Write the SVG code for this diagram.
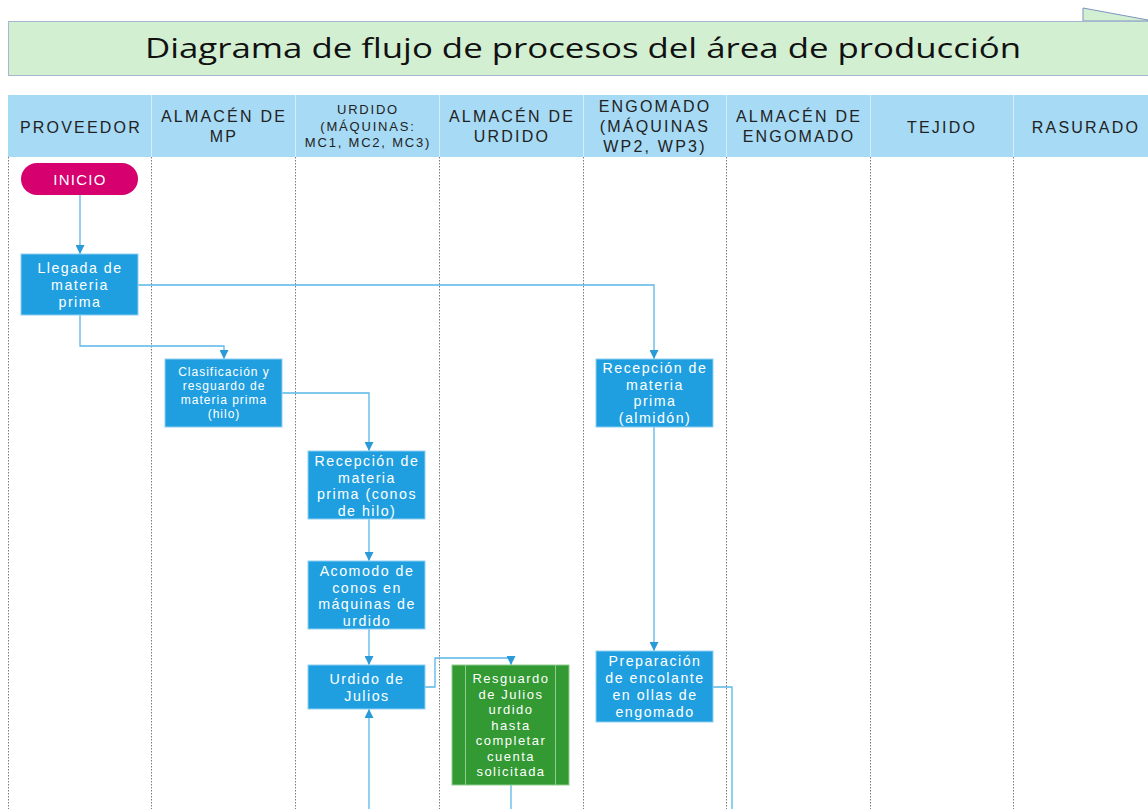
<svg xmlns="http://www.w3.org/2000/svg" width="1148" height="809" viewBox="0 0 1148 809">
<defs>
<style>
.lane{stroke:#7a7a7a;stroke-width:1;stroke-dasharray:1.5 1.5;fill:none}
.hd{font-family:"Liberation Sans",Arial,sans-serif;font-size:16px;letter-spacing:2.2px;fill:#222;text-anchor:middle}
.hds{font-family:"Liberation Sans",Arial,sans-serif;font-size:13px;letter-spacing:1.8px;fill:#222;text-anchor:middle}
.box{fill:#1f9fe0;stroke:#8fd0f2;stroke-width:1}
.gbox{fill:#339933;stroke:#8fcc8f;stroke-width:1}
.t{font-family:"Liberation Sans",Arial,sans-serif;font-size:14.2px;letter-spacing:1.5px;fill:#fff;text-anchor:middle}
.ts{font-family:"Liberation Sans",Arial,sans-serif;font-size:12px;letter-spacing:1px;fill:#fff;text-anchor:middle}
.tg{font-family:"Liberation Sans",Arial,sans-serif;font-size:13px;letter-spacing:1.5px;fill:#fff;text-anchor:middle}
.c{fill:none;stroke:#5ab7e8;stroke-width:1.3}
</style>
<marker id="ar" viewBox="0 0 10 10" refX="10" refY="5" markerWidth="9" markerHeight="9" markerUnits="userSpaceOnUse" orient="auto">
<path d="M0,0 L10,5 L0,10 z" fill="#2a9ad8"/>
</marker>
</defs>
<rect width="1148" height="809" fill="#fff"/>
<g id="title">
<polygon points="1083,8 1083,21 1148,21 1148,20" fill="#d3efd1" stroke="#7d93c0" stroke-width="1"/>
<rect x="8.5" y="21.5" width="1145" height="54" fill="#d3efd1" stroke="#a7b7d0" stroke-width="1"/>
<text x="583" y="58" font-family="'Open Sans','Liberation Sans',sans-serif" font-size="28" fill="#111" text-anchor="middle" textLength="876" lengthAdjust="spacingAndGlyphs">Diagrama de flujo de procesos del área de producción</text>
</g>
<g id="header">
<rect x="8" y="95" width="1140" height="62" fill="#a6daf5"/>
<g stroke="#d3eefa" stroke-width="1">
<line x1="151.5" y1="95" x2="151.5" y2="157"/>
<line x1="295.5" y1="95" x2="295.5" y2="157"/>
<line x1="439.5" y1="95" x2="439.5" y2="157"/>
<line x1="583.5" y1="95" x2="583.5" y2="157"/>
<line x1="726.5" y1="95" x2="726.5" y2="157"/>
<line x1="870.5" y1="95" x2="870.5" y2="157"/>
<line x1="1013.5" y1="95" x2="1013.5" y2="157"/>
</g>
<text class="hd" x="81" y="133">PROVEEDOR</text>
<text class="hd" x="224" y="122">ALMACÉN DE</text>
<text class="hd" x="224" y="142">MP</text>
<text class="hds" x="368" y="114">URDIDO</text>
<text class="hds" x="368" y="131">(MÁQUINAS:</text>
<text class="hds" x="368" y="147">MC1, MC2, MC3)</text>
<text class="hd" x="512" y="122">ALMACÉN DE</text>
<text class="hd" x="512" y="142">URDIDO</text>
<text class="hd" x="655" y="112">ENGOMADO</text>
<text class="hd" x="655" y="132">(MÁQUINAS</text>
<text class="hd" x="655" y="152">WP2, WP3)</text>
<text class="hd" x="799" y="122">ALMACÉN DE</text>
<text class="hd" x="799" y="142">ENGOMADO</text>
<text class="hd" x="942" y="133">TEJIDO</text>
<text class="hd" x="1086" y="133">RASURADO</text>
</g>
<g id="lanes">
<line class="lane" x1="8.5" y1="157" x2="8.5" y2="809"/>
<line class="lane" x1="151.5" y1="157" x2="151.5" y2="809"/>
<line class="lane" x1="295.5" y1="157" x2="295.5" y2="809"/>
<line class="lane" x1="439.5" y1="157" x2="439.5" y2="809"/>
<line class="lane" x1="583.5" y1="157" x2="583.5" y2="809"/>
<line class="lane" x1="726.5" y1="157" x2="726.5" y2="809"/>
<line class="lane" x1="870.5" y1="157" x2="870.5" y2="809"/>
<line class="lane" x1="1013.5" y1="157" x2="1013.5" y2="809"/>
</g>
<g id="connectors">
<path class="c" d="M80,195 V254" marker-end="url(#ar)"/>
<path class="c" d="M138,285 H654 V359" marker-end="url(#ar)"/>
<path class="c" d="M80,315 V346 H224 V359" marker-end="url(#ar)"/>
<path class="c" d="M282,393 H369 V451" marker-end="url(#ar)"/>
<path class="c" d="M369,519 V561" marker-end="url(#ar)"/>
<path class="c" d="M369,629 V665" marker-end="url(#ar)"/>
<path class="c" d="M369,809 V709" marker-end="url(#ar)"/>
<path class="c" d="M425,687 H435 V658 H511 V665" marker-end="url(#ar)"/>
<path class="c" d="M511,785 V809"/>
<path class="c" d="M654,427 V651" marker-end="url(#ar)"/>
<path class="c" d="M713,687 H732 V809"/>
</g>
<g id="inicio">
<rect x="21" y="163" width="117" height="32" rx="16" fill="#d6006f"/>
<text x="80" y="185" font-family="'Liberation Sans',Arial,sans-serif" font-size="15" letter-spacing="1.3" fill="#fff" text-anchor="middle">INICIO</text>
</g>
<g id="llegada">
<rect class="box" x="21" y="254" width="117" height="61"/>
<text class="t" x="80" y="273">Llegada de</text>
<text class="t" x="80" y="290">materia</text>
<text class="t" x="80" y="307">prima</text>
</g>
<g id="clasificacion">
<rect class="box" x="165" y="359" width="117" height="68"/>
<text class="ts" x="224" y="376">Clasificación y</text>
<text class="ts" x="224" y="390">resguardo de</text>
<text class="ts" x="224" y="404">materia prima</text>
<text class="ts" x="224" y="418">(hilo)</text>
</g>
<g id="recepcion-conos">
<rect class="box" x="308" y="451" width="117" height="68"/>
<text class="t" x="367" y="466">Recepción de</text>
<text class="t" x="367" y="482.5">materia</text>
<text class="t" x="367" y="499">prima (conos</text>
<text class="t" x="367" y="515.5">de hilo)</text>
</g>
<g id="acomodo">
<rect class="box" x="308" y="561" width="117" height="68"/>
<text class="t" x="367" y="576">Acomodo de</text>
<text class="t" x="367" y="592.5">conos en</text>
<text class="t" x="367" y="609">máquinas de</text>
<text class="t" x="367" y="625.5">urdido</text>
</g>
<g id="urdido-julios">
<rect class="box" x="308" y="665" width="117" height="44"/>
<text class="t" x="367" y="684">Urdido de</text>
<text class="t" x="367" y="701">Julios</text>
</g>
<g id="resguardo-julios">
<rect class="gbox" x="452" y="665" width="117" height="120"/>
<line x1="465.5" y1="665" x2="465.5" y2="785" stroke="#8fcc8f"/>
<line x1="555.5" y1="665" x2="555.5" y2="785" stroke="#8fcc8f"/>
<text class="tg" x="511" y="683">Resguardo</text>
<text class="tg" x="511" y="698.5">de Julios</text>
<text class="tg" x="511" y="714">urdido</text>
<text class="tg" x="511" y="729.5">hasta</text>
<text class="tg" x="511" y="745">completar</text>
<text class="tg" x="511" y="760.5">cuenta</text>
<text class="tg" x="511" y="776">solicitada</text>
</g>
<g id="recepcion-almidon">
<rect class="box" x="596" y="359" width="117" height="68"/>
<text class="t" x="655" y="373">Recepción de</text>
<text class="t" x="655" y="389.5">materia</text>
<text class="t" x="655" y="406">prima</text>
<text class="t" x="655" y="422.5">(almidón)</text>
</g>
<g id="preparacion">
<rect class="box" x="596" y="651" width="117" height="71"/>
<text class="t" x="655" y="666">Preparación</text>
<text class="t" x="655" y="683">de encolante</text>
<text class="t" x="655" y="700">en ollas de</text>
<text class="t" x="655" y="717">engomado</text>
</g>
</svg>
